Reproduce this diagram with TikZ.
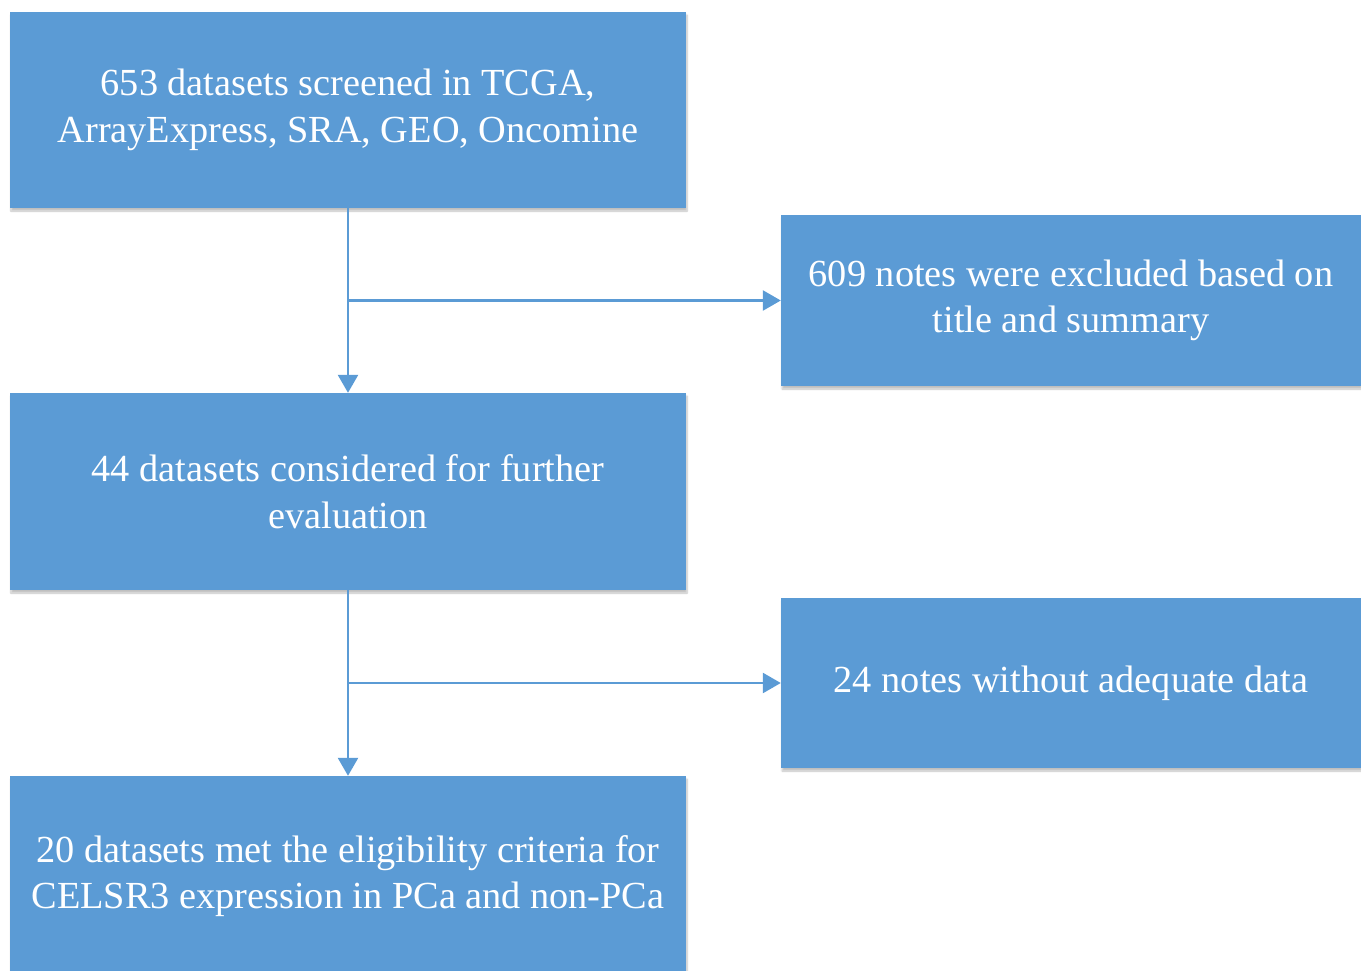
\documentclass[tikz,border=0pt]{standalone}
\usepackage{fontspec}
\setmainfont{Liberation Serif}
\usetikzlibrary{arrows.meta,shadows.blur}
\definecolor{boxblue}{HTML}{5B9BD5}
\begin{document}
\begin{tikzpicture}[x=1pt,y=-1pt,
  flowbox/.style={fill=boxblue,draw=none,text=white,align=center,
    font=\fontsize{38.3}{46.5}\selectfont,inner sep=0pt,
    blur shadow={shadow xshift=1pt,shadow yshift=-3pt,shadow blur steps=6,shadow opacity=25}},
  conn/.style={draw=boxblue,line width=2.6pt,-{Triangle[width=20pt,length=18pt]}}]
\useasboundingbox (0,0) rectangle (1361,971);
\node[flowbox,minimum width=676pt,minimum height=196pt] (b1) at (348,110)
  {653 datasets screened in TCGA,\\ArrayExpress, SRA, GEO, Oncomine};
\node[flowbox,minimum width=580pt,minimum height=171pt] (b2) at (1071,300.5)
  {609 notes were excluded based on\\title and summary};
\node[flowbox,minimum width=676pt,minimum height=197pt] (b3) at (348,491.5)
  {44 datasets considered for further\\evaluation};
\node[flowbox,minimum width=580pt,minimum height=170pt] (b4) at (1071,683)
  {24 notes without adequate data};
\node[flowbox,minimum width=676pt,minimum height=200pt] (b5) at (348,876)
  {20 datasets met the eligibility criteria for\\CELSR3 expression in PCa and non-PCa};
\coordinate (j1) at (b1.south |- b2.west);
\coordinate (j2) at (b3.south |- b4.west);
\draw[conn] (b1.south) -- (b3.north);
\draw[conn] (j1) -- (b2.west);
\draw[conn] (b3.south) -- (b5.north);
\draw[conn] (j2) -- (b4.west);
\end{tikzpicture}
\end{document}
